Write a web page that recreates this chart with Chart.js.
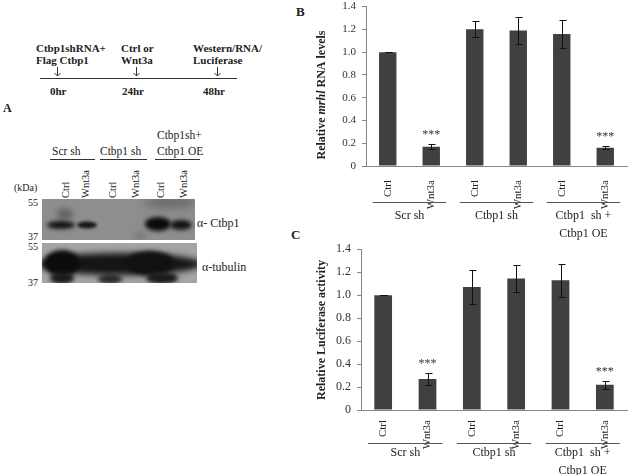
<!DOCTYPE html>
<html>
<head>
<meta charset="utf-8">
<script src="https://cdn.jsdelivr.net/npm/chart.js@4.4.0/dist/chart.umd.min.js"></script>
<style>
  body { margin: 0; width: 630px; height: 475px; background: #fff; position: relative; overflow: hidden;
         font-family: "Liberation Serif", "Times New Roman", serif; color: #222; }
  .t { position: absolute; white-space: nowrap; line-height: 1; }
  .b { font-weight: bold; }
  canvas { position: absolute; }
  svg { position: absolute; left: 0; top: 0; }
</style>
</head>
<body>

<!-- timeline -->
<div class="t b" style="left:36px;top:43px;font-size:11px">Ctbp1shRNA+</div>
<div class="t b" style="left:36px;top:55px;font-size:11px">Flag Ctbp1</div>
<div class="t b" style="left:121px;top:43px;font-size:11px">Ctrl or</div>
<div class="t b" style="left:121px;top:55px;font-size:11px">Wnt3a</div>
<div class="t b" style="left:193px;top:43px;font-size:11px">Western/RNA/</div>
<div class="t b" style="left:193px;top:55px;font-size:11px">Luciferase</div>
<div class="t b" style="left:50px;top:86px;font-size:11px">0hr</div>
<div class="t b" style="left:122px;top:86px;font-size:11px">24hr</div>
<div class="t b" style="left:203px;top:86px;font-size:11px">48hr</div>
<div class="t b" style="left:3px;top:102px;font-size:12px">A</div>

<!-- western blot labels -->
<div class="t" style="left:157px;top:130px;font-size:11.5px">Ctbp1sh+</div>
<div class="t" style="left:52px;top:146px;font-size:11.5px">Scr sh</div>
<div class="t" style="left:100px;top:146px;font-size:11.5px">Ctbp1 sh</div>
<div class="t" style="left:157px;top:146px;font-size:11.5px">Ctbp1 OE</div>
<div class="t" style="left:14px;top:183px;font-size:10px">(kDa)</div>
<div class="t" style="left:28px;top:198px;font-size:10px">55</div>
<div class="t" style="left:28px;top:232px;font-size:10px">37</div>
<div class="t" style="left:28px;top:242px;font-size:10px">55</div>
<div class="t" style="left:28px;top:278px;font-size:10px">37</div>
<div class="t" style="left:197px;top:217px;font-size:12px">&alpha;- Ctbp1</div>
<div class="t" style="left:202px;top:261px;font-size:12px">&alpha;-tubulin</div>

<div class="t b" style="left:296px;top:5px;font-size:13px">B</div>
<div class="t b" style="left:291px;top:228px;font-size:13px">C</div>

<svg width="300" height="300" font-family="Liberation Serif, serif" font-size="10.5" fill="#222">
  <g stroke="#333" stroke-width="1" fill="none">
    <line x1="40" y1="78.5" x2="237" y2="78.5"/>
    <path d="M57.5 67 V76 M54.5 73 L57.5 76 L60.5 73"/>
    <path d="M136.5 67 V76 M133.5 73 L136.5 76 L139.5 73"/>
    <path d="M217.5 67 V76 M214.5 73 L217.5 76 L220.5 73"/>
    <line x1="50" y1="159.5" x2="95" y2="159.5"/>
    <line x1="100" y1="159.5" x2="147" y2="159.5"/>
    <line x1="155" y1="159.5" x2="200" y2="159.5"/>
  </g>
  <text transform="translate(69,198) rotate(-90)">Ctrl</text>
  <text transform="translate(89,198) rotate(-90)">Wnt3a</text>
  <text transform="translate(116,198) rotate(-90)">Ctrl</text>
  <text transform="translate(139,198) rotate(-90)">Wnt3a</text>
  <text transform="translate(164,198) rotate(-90)">Ctrl</text>
  <text transform="translate(187,198) rotate(-90)">Wnt3a</text>
</svg>

<canvas id="blot" width="165" height="92" style="left:40px;top:196px"></canvas>

<canvas id="chartB" width="330" height="246" style="left:300px;top:-6px"></canvas>
<canvas id="chartC" width="330" height="239" style="left:300px;top:236px"></canvas>

<script>
// ---- data ----
const categories = ['Ctrl', 'Wnt3a', 'Ctrl', 'Wnt3a', 'Ctrl', 'Wnt3a'];
const groups = [['Scr sh'], ['Ctbp1 sh'], ['Ctbp1  sh +', 'Ctbp1 OE']];
const yTicks = [0, 0.2, 0.4, 0.6, 0.8, 1, 1.2, 1.4];
const rnaLevels = [1.00, 0.17, 1.20, 1.19, 1.16, 0.16];
const rnaErrors = [0.003, 0.02, 0.07, 0.12, 0.12, 0.015];
const lucActivity = [1.00, 0.27, 1.07, 1.145, 1.13, 0.22];
const lucErrors = [0.003, 0.055, 0.15, 0.115, 0.145, 0.035];
const sigMarks = ['', '***', '', '', '', '***'];

const serif = '"Liberation Serif", "Times New Roman", serif';
const axisGray = '#868686';

Chart.defaults.font.family = serif;

// draws error bars, stars, group brackets and the y title
const extras = {
  id: 'extras',
  afterDatasetsDraw(chart, args, opts) {
    const ctx = chart.ctx;
    const x = chart.scales.x, y = chart.scales.y;
    const meta = chart.getDatasetMeta(0);
    const vals = chart.data.datasets[0].data;
    ctx.save();

    // error bars
    ctx.strokeStyle = '#111';
    ctx.lineWidth = 1;
    opts.errors.forEach((e, i) => {
      const cx = Math.round(meta.data[i].x) + 0.5;
      const top = Math.round(y.getPixelForValue(vals[i] + e)) + 0.5;
      const bot = Math.round(y.getPixelForValue(vals[i] - e)) + 0.5;
      ctx.beginPath();
      ctx.moveTo(cx, top); ctx.lineTo(cx, bot);
      ctx.moveTo(cx - 3, top); ctx.lineTo(cx + 4, top);
      ctx.moveTo(cx - 3, bot); ctx.lineTo(cx + 4, bot);
      ctx.stroke();
    });

    // significance stars
    ctx.fillStyle = '#333';
    ctx.font = '12px ' + serif;
    ctx.textAlign = 'center';
    ctx.textBaseline = 'alphabetic';
    sigMarks.forEach((s, i) => {
      if (!s) return;
      const top = y.getPixelForValue(vals[i] + opts.errors[i]);
      ctx.fillText(s, meta.data[i].x, top + opts.starShift);
    });

    // group brackets
    ctx.strokeStyle = '#555';
    ctx.fillStyle = '#222';
    ctx.font = opts.groupFont + 'px ' + serif;
    ctx.textBaseline = 'middle';
    groups.forEach((lines, g) => {
      const x0 = x.getPixelForValue(2 * g), x1 = x.getPixelForValue(2 * g + 1);
      ctx.beginPath();
      ctx.moveTo(x0 - 15, opts.lineY + 0.5);
      ctx.lineTo(x1 + 15, opts.lineY + 0.5);
      ctx.stroke();
      lines.forEach((txt, k) => {
        ctx.fillText(txt, (x0 + x1) / 2, opts.textY + k * opts.lineGap);
      });
    });

    // y axis title with mixed styles
    ctx.translate(opts.titleX, opts.titleY);
    ctx.rotate(-Math.PI / 2);
    ctx.textAlign = 'left';
    ctx.textBaseline = 'middle';
    ctx.fillStyle = '#222';
    let total = 0;
    opts.title.forEach(seg => { ctx.font = seg.font; total += ctx.measureText(seg.text).width; });
    let pos = -total / 2;
    opts.title.forEach(seg => {
      ctx.font = seg.font;
      ctx.fillText(seg.text, pos, 0);
      pos += ctx.measureText(seg.text).width;
    });
    ctx.restore();
  }
};

function makeChart(id, values, errors, cfg) {
  return new Chart(document.getElementById(id), {
    type: 'bar',
    data: {
      labels: categories,
      datasets: [{
        data: values,
        backgroundColor: '#404040',
        borderWidth: 0,
        barPercentage: 0.4,
        categoryPercentage: 1
      }]
    },
    options: {
      responsive: false,
      animation: false,
      layout: { padding: { top: cfg.top, right: 3, left: 0, bottom: 0 } },
      plugins: {
        legend: { display: false },
        tooltip: { enabled: false },
        extras: Object.assign({ errors: errors }, cfg.extras)
      },
      scales: {
        x: {
          grid: { display: false },
          border: { display: true, color: axisGray },
          ticks: {
            color: '#222', font: { family: serif, size: 11 },
            minRotation: 90, maxRotation: 90, autoSkip: false, padding: cfg.xPad
          },
          afterFit(s) { s.height = cfg.xHeight; }
        },
        y: {
          min: 0, max: 1.4,
          grid: { drawOnChartArea: false, tickLength: 4, color: axisGray },
          border: { display: true, color: axisGray },
          ticks: { color: '#333', font: { family: serif, size: cfg.tickSize }, padding: 6 },
          afterBuildTicks(s) { s.ticks = yTicks.map(v => ({ value: v })); },
          afterFit(s) { s.width = cfg.yWidth; }
        }
      }
    },
    plugins: [extras]
  });
}

function drawCharts() {
  makeChart('chartB', rnaLevels, rnaErrors, {
    top: 10, xHeight: 74, yWidth: 66, tickSize: 11, xPad: 6,
    extras: {
      starShift: -6, lineY: 208, textY: 222, lineGap: 18, groupFont: 12,
      titleX: 22, titleY: 101,
      title: [
        { text: 'Relative ', font: 'bold 12px ' + serif },
        { text: 'mrhl', font: 'bold italic 12px ' + serif },
        { text: ' RNA levels', font: 'bold 12px ' + serif }
      ]
    }
  });

  makeChart('chartC', lucActivity, lucErrors, {
    top: 13, xHeight: 65, yWidth: 61, tickSize: 12, xPad: 2,
    extras: {
      starShift: -6, lineY: 207, textY: 217, lineGap: 18, groupFont: 12,
      titleX: 22, titleY: 94,
      title: [{ text: 'Relative Luciferase activity', font: 'bold 12px ' + serif }]
    }
  });
}

// ---- western blot (image panel, not chart data) ----
function drawBlot() {
  const c = document.getElementById('blot').getContext('2d');
  function blob(cx, cy, rx, ry, col, blur) {
    c.filter = 'blur(' + blur + 'px)';
    c.fillStyle = col;
    c.beginPath();
    c.ellipse(cx, cy, rx, ry, 0, 0, Math.PI * 2);
    c.fill();
    c.filter = 'none';
  }
  // panel 1: Ctbp1
  c.save();
  c.beginPath(); c.rect(2, 3, 153, 41); c.clip();
  c.fillStyle = '#8e8e8e'; c.fillRect(2, 3, 153, 41);
  blob(130, 6, 26, 6, '#6a6a6a', 4);
  blob(25, 18, 8, 5, '#5a5a5a', 3);
  blob(21, 29, 14, 4, '#111', 2);
  blob(47, 29, 10, 3.5, '#181818', 1.5);
  blob(118, 28, 13, 7, '#0a0a0a', 2);
  blob(141, 29, 11, 5, '#141414', 2);
  blob(100, 40, 6, 4, '#777', 3);
  c.restore();
  // panel 2: tubulin
  c.save();
  c.beginPath(); c.rect(2, 47, 155, 40); c.clip();
  c.fillStyle = '#a4a4a4'; c.fillRect(2, 47, 155, 40);
  blob(80, 68, 82, 11, '#151515', 3);
  blob(22, 67, 18, 13, '#0c0c0c', 2);
  blob(110, 67, 24, 12, '#111', 2);
  blob(22, 82, 12, 6, '#1a1a1a', 2);
  blob(70, 83, 12, 5, '#2a2a2a', 2);
  blob(122, 82, 16, 6, '#1a1a1a', 2);
  c.restore();
}

drawBlot();
Promise.all([
  document.fonts.load('12px "Liberation Serif"'),
  document.fonts.load('bold 12px "Liberation Serif"'),
  document.fonts.load('italic bold 12px "Liberation Serif"')
]).then(drawCharts, drawCharts);
</script>
</body>
</html>
